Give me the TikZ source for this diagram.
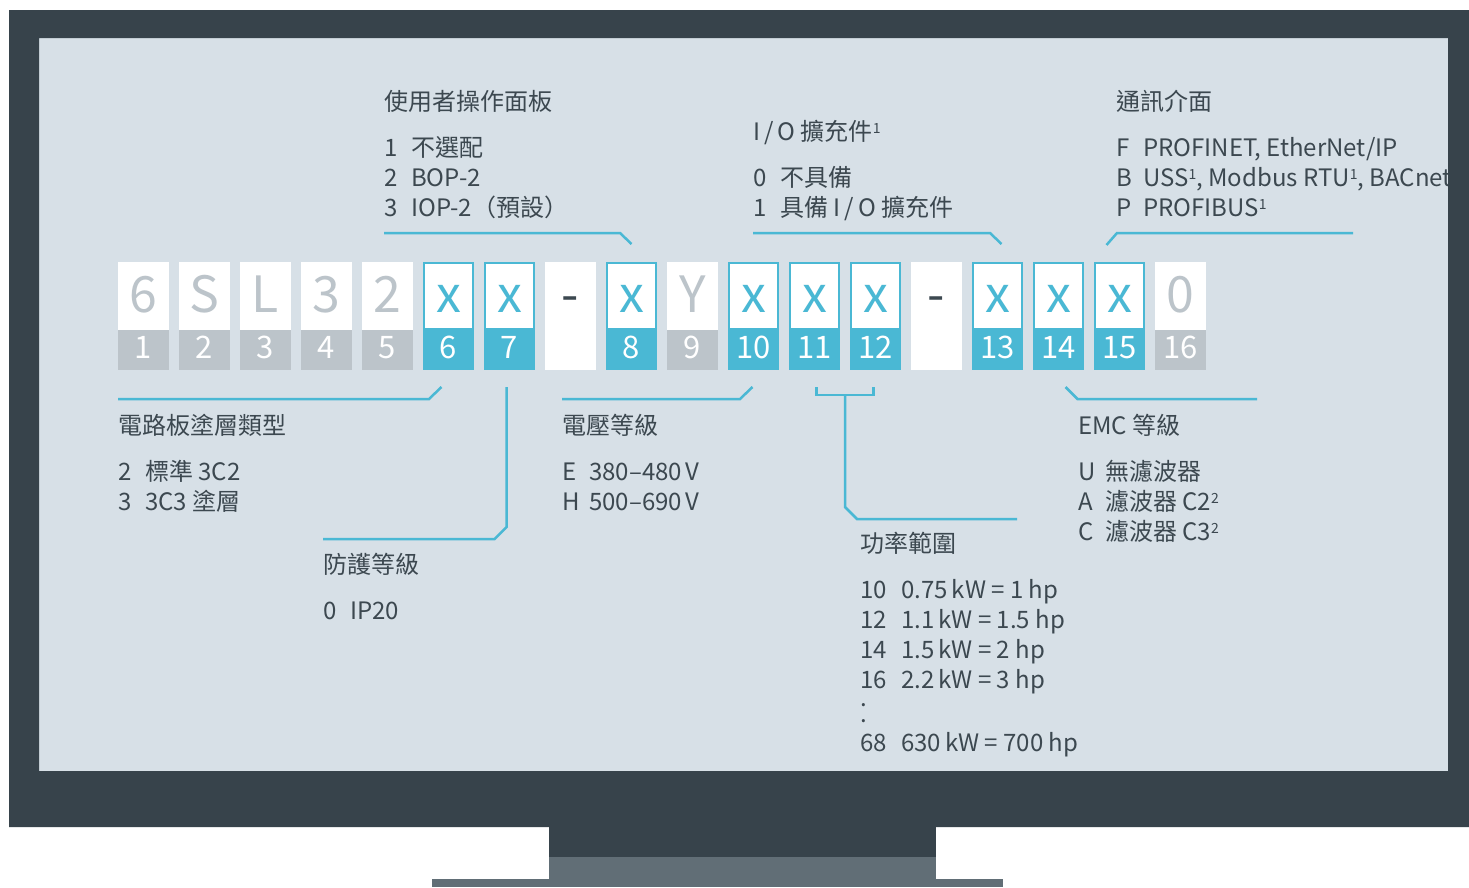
\documentclass[tikz,border=0pt]{standalone}
\usepackage{fontspec}
\setmainfont{Noto Sans CJK TC}
\usetikzlibrary{positioning}

\definecolor{frame}{HTML}{37434B}
\definecolor{stand}{HTML}{616E76}
\definecolor{screen}{HTML}{D7E0E7}
\definecolor{cyanc}{HTML}{4AB8D4}
\definecolor{fixgray}{HTML}{BCC4CA}
\definecolor{ink}{HTML}{3C4850}

\newcommand\opt[3][27pt]{\makebox[#1][l]{#2}#3}
\newcommand\fn[1]{\raisebox{7pt}{\fontsize{14}{14}\selectfont #1}}

\tikzset{
  cell/.style={inner sep=0pt, outer sep=0pt, minimum width=51pt, fill=white},
  fix-top/.style={cell, minimum height=68pt, text height=32pt, text depth=0pt,
    text=fixgray, font=\fontsize{50}{50}\selectfont},
  var-top/.style={fix-top, text=cyanc, draw=cyanc, line width=2pt,
    minimum width=49pt, minimum height=66pt},
  gap-top/.style={fix-top, text=ink},
  fix-num/.style={cell, minimum height=40pt, text height=17pt, text depth=0pt,
    fill=fixgray, text=white, font=\fontsize{31}{31}\selectfont},
  var-num/.style={fix-num, fill=cyanc},
  gap-num/.style={fix-num, fill=white},
  lead/.style={cyanc, line width=2.5pt},
  % anchored at the baseline of the last line
  infobox/.style={anchor=base west, align=left, text=ink, inner sep=0pt,
    font=\fontsize{24}{30}\selectfont},
}

\begin{document}
\begin{tikzpicture}[x=1pt, y=-1pt]
  \useasboundingbox (0,0) rectangle (1469,887);
  \fill[white] (0,0) rectangle (1469,887);
  \fill[screen] (39,38) rectangle (1448,771);

  % order number cells
  \foreach \t/\k/\s/\m [count=\j from 0] in {6/1/fix/1, S/2/fix/2, L/3/fix/3,
      3/4/fix/4, 2/5/fix/5, x/6/var/6, x/7/var/7, -/{}/gap/a, x/8/var/8,
      Y/9/fix/9, x/10/var/10, x/11/var/11, x/12/var/12, -/{}/gap/b,
      x/13/var/13, x/14/var/14, x/15/var/15, 0/16/fix/16}
  {
    \node[\s-top] (t\m) at ({143.5+61*\j},296) {\t};
    \node[\s-num] (n\m) at ({143.5+61*\j},350) {\k};
  }

  % texts
  \node[infobox] (hmi) at (384,216) {使用者操作面板\\[16pt]
    \opt{1}{不選配}\\ \opt{2}{BOP-2}\\ \opt{3}{IOP-2（預設）}};
  \node[infobox] (io) at (753,216) {I\,/\,O 擴充件\fn{1}\\[16pt]
    \opt{0}{不具備}\\ \opt{1}{具備 I\,/\,O 擴充件}};
  \node[infobox] (comm) at (1116,216) {通訊介面\\[16pt]
    \opt{F}{PROFINET, EtherNet/IP}\\
    \opt{B}{USS\fn{1}, Modbus RTU\fn{1}, BACnet\fn{1}}\\
    \opt{P}{PROFIBUS\fn{1}}};
  \node[infobox] (coat) at (118,510) {電路板塗層類型\\[16pt]
    \opt{2}{標準 3C2}\\ \opt{3}{3C3 塗層}};
  \node[infobox] (prot) at (323,619) {防護等級\\[16pt] \opt{0}{IP20}};
  \node[infobox] (volt) at (562,510) {電壓等級\\[16pt]
    \opt{E}{380–480\,V}\\ \opt{H}{500–690\,V}};
  \node[infobox] (power) at (860,751) {功率範圍\\[16pt]
    \opt[41pt]{10}{0.75\,kW = 1 hp}\\ \opt[41pt]{12}{1.1\,kW = 1.5 hp}\\
    \opt[41pt]{14}{1.5\,kW = 2 hp}\\ \opt[41pt]{16}{2.2\,kW = 3 hp}\\[-12pt]
    .\\[-14pt] .\\[-1pt] \opt[41pt]{68}{630\,kW = 700 hp}};
  \node[infobox] (emc) at (1078,540) {EMC 等級\\[16pt]
    \opt{U}{無濾波器}\\ \opt{A}{濾波器 C2\fn{2}}\\
    \opt{C}{濾波器 C3\fn{2}}};

  % brackets
  \coordinate (hmi-l) at (384,233);
  \coordinate (io-l) at (753,233);
  \coordinate (comm-r) at (1353,233);
  \coordinate (coat-l) at (118,399);
  \coordinate (prot-l) at (323,539);
  \coordinate (volt-l) at (562,399);
  \coordinate (power-m) at (845,395);
  \coordinate (power-r) at (1017,519);
  \coordinate (emc-r) at (1257,399);

  \draw[lead] (hmi-l) -- ++(236,0) -- ([yshift=19pt]t8.north);
  \draw[lead] (io-l) -- ++(237,0) -- ([shift={(4pt,19pt)}]t13.north);
  \draw[lead] (comm-r) -- ++(-236,0) -- ([shift={(-13pt,18pt)}]t15.north);
  \draw[lead] (coat-l) -- ++(311,0) -- ([shift={(-7pt,-17pt)}]n6.south);
  \draw[lead] ([shift={(-3pt,-17pt)}]n7.south) -- ++(0,140) -- ++(-12,12) -- (prot-l);
  \draw[lead] (volt-l) -- ++(178,0) -- ([shift={(-1pt,-17pt)}]n10.south);
  \draw[lead] ([shift={(2pt,-17pt)}]n11.south) -- ++(0,8)
    -| ([shift={(-2pt,-17pt)}]n12.south);
  \draw[lead] (power-m) -- ++(0,112) -- ++(12,12) -- (power-r);
  \draw[lead] ([shift={(7pt,-17pt)}]n14.south) -- ++(12,12) -- (emc-r);

  % monitor
  \fill[frame, even odd rule] (9,10) rectangle (1469,827) (39,38) rectangle (1448,771);
  \fill[frame] (549,826) rectangle (936,857);
  \fill[stand] (549,857) rectangle (936,887);
  \fill[stand] (432,879) rectangle (1003,887);
\end{tikzpicture}
\end{document}
